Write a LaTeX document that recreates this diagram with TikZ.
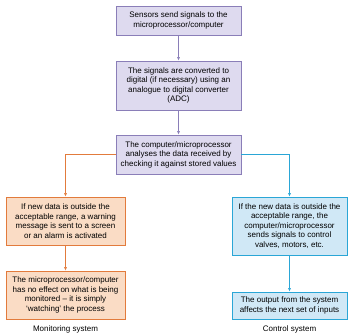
\documentclass[tikz,border=0pt]{standalone}
\usepackage{fontspec}
\setmainfont{Liberation Sans}
\usetikzlibrary{arrows.meta}
\definecolor{purpleline}{HTML}{8A7EB8}
\definecolor{purplefill}{HTML}{DEDAEF}
\definecolor{orangeline}{HTML}{E27B3C}
\definecolor{orangefill}{HTML}{FADCC5}
\definecolor{blueline}{HTML}{2AA6D6}
\definecolor{bluefill}{HTML}{D0E8F6}
\tikzset{
  box/.style={draw, line width=0.8pt, align=center, inner sep=1pt,
    font=\fontsize{8}{9.5}\selectfont},
  pbox/.style={box, draw=purpleline, fill=purplefill, minimum width=125pt},
  obox/.style={box, draw=orangeline, fill=orangefill, minimum width=119pt},
  bbox/.style={box, draw=blueline, fill=bluefill, minimum width=115pt},
  link/.style={line width=0.6pt, -{Latex[length=3.5pt,width=3pt]}},
  caption/.style={font=\fontsize{8}{9}\selectfont}
}
\begin{document}
\begin{tikzpicture}[x=1pt,y=-1pt]
  \useasboundingbox (0,0) rectangle (350,333);
  % middle column
  \node[pbox, minimum height=29pt] (sense) at (178.5,20.5)
    {Sensors send signals to the\\microprocessor/computer};
  \node[pbox, minimum height=49pt] (adc) at (178.5,85.5)
    {The signals are converted to\\digital (if necessary) using an\\analogue to digital converter\\(ADC)};
  \node[pbox, minimum height=39pt] (check) at (178.5,154.5)
    {The computer/microprocessor\\analyses the data received by\\checking it against stored values};
  % monitoring side
  \node[obox, minimum height=48pt] (warn) at (65.5,221)
    {If new data is outside the\\acceptable range, a warning\\message is sent to a screen\\or an alarm is activated};
  \node[obox, minimum height=48pt] (watch) at (65.5,295)
    {The microprocessor/computer\\has no effect on what is being\\monitored -- it is simply\\`watching' the process};
  \node[caption] (monitor) at (65.5,329) {Monitoring system};
  % control side
  \node[bbox, minimum height=58pt] (act) at (289.5,226)
    {If the new data is outside the\\acceptable range, the\\computer/microprocessor\\sends signals to control\\valves, motors, etc.};
  \node[bbox, minimum height=27pt] (output) at (289.5,305.5)
    {The output from the system\\affects the next set of inputs};
  \node[caption] (control) at (289.5,329) {Control system};
  % connectors
  \draw[link, purpleline] (sense) -- (adc);
  \draw[link, purpleline] (adc) -- (check);
  \draw[link, orangeline] (check.west) -| (warn.north);
  \draw[link, orangeline] (warn) -- (watch);
  \draw[link, blueline] (check.east) -| (act.north);
  \draw[link, blueline] (act) -- (output);
\end{tikzpicture}
\end{document}
